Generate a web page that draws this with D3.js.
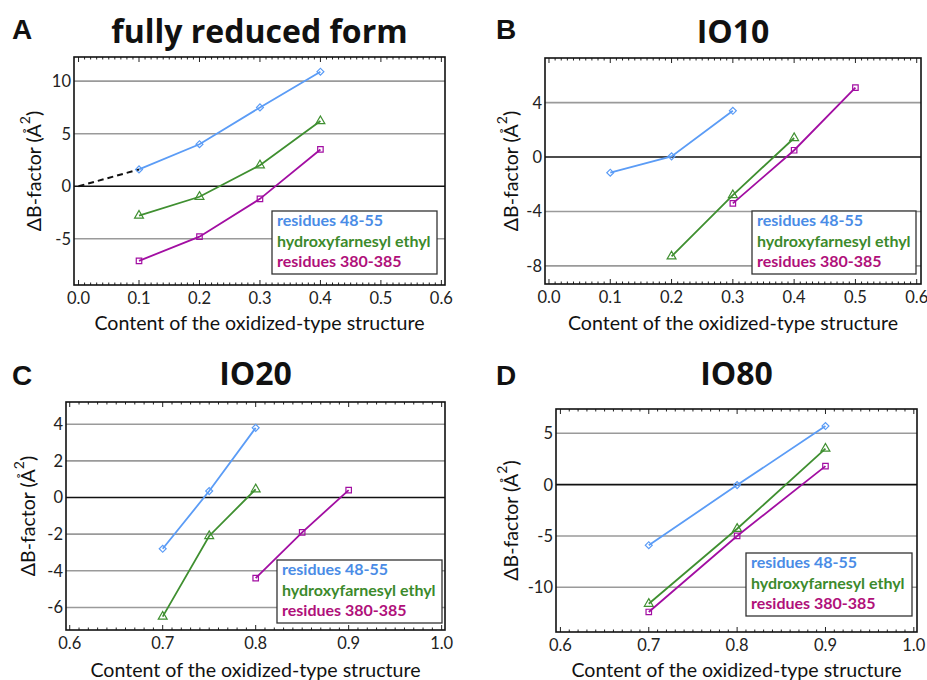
<!doctype html>
<html>
<head>
<meta charset="utf-8">
<title>Delta B-factor panels</title>
<script src="https://cdnjs.cloudflare.com/ajax/libs/d3/7.8.5/d3.min.js"></script>
<style>
  body { margin: 0; background: #fff; }
  svg { display: block; }
</style>
</head>
<body>
<svg width="927" height="680"></svg>
<script>
// ---- data ----
var seriesNames = ["residues 48-55", "hydroxyfarnesyl ethyl", "residues 380-385"];

// A: fully reduced form
var xA = [0.1, 0.2, 0.3, 0.4];
var blueA = [1.6, 4.0, 7.5, 10.9];
var greenA = [-2.8, -1.0, 2.0, 6.2];
var purpleA = [-7.1, -4.8, -1.2, 3.5];
var extrapA = [[0, 0], [0.1, 1.6]];

// B: IO10
var xBblue = [0.1, 0.2, 0.3];
var blueB = [-1.15, 0.05, 3.4];
var xBgreen = [0.2, 0.3, 0.4];
var greenB = [-7.3, -2.8, 1.4];
var xBpurple = [0.3, 0.4, 0.5];
var purpleB = [-3.4, 0.5, 5.1];

// C: IO20
var xCblue = [0.7, 0.75, 0.8];
var blueC = [-2.8, 0.35, 3.8];
var xCgreen = [0.7, 0.75, 0.8];
var greenC = [-6.5, -2.1, 0.45];
var xCpurple = [0.8, 0.85, 0.9];
var purpleC = [-4.4, -1.9, 0.4];

// D: IO80
var xD = [0.7, 0.8, 0.9];
var blueD = [-5.9, -0.05, 5.7];
var greenD = [-11.6, -4.3, 3.5];
var purpleD = [-12.4, -5.0, 1.8];

// tick labels
var xTicksLow = [0, 0.1, 0.2, 0.3, 0.4, 0.5, 0.6];
var xTicksHigh = [0.6, 0.7, 0.8, 0.9, 1.0];
var yTicksA = [-5, 0, 5, 10];
var yTicksB = [-8, -4, 0, 4];
var yTicksC = [-6, -4, -2, 0, 2, 4];
var yTicksD = [-10, -5, 0, 5];

var titles = ["fully reduced form", "IO10", "IO20", "IO80"];
var letters = ["A", "B", "C", "D"];

// ---- styling ----
var lineColors = ["#5b9cf6", "#3f8f30", "#a20ea2"];
var textColors = ["#4a8ce6", "#3c8a2c", "#b0107a"];
var symbols = ["diamond", "triangle", "square"];

function zip(xs, ys) { return xs.map((x, i) => [x, ys[i]]); }

var panels = [
  { frame: [74, 445, 57, 285], xDom: [-0.0075, 0.606], yDom: [-9.4, 12.3],
    xTicks: xTicksLow, yTicks: yTicksA, fmt: d3.format(".1f"),
    series: [zip(xA, blueA), zip(xA, greenA), zip(xA, purpleA)],
    dashed: extrapA,
    legend: [272, 211, 165, 63], letterPos: [12, 39], titleY: 43, yLabX: 41 },
  { frame: [545, 921, 58, 284], xDom: [-0.0065, 0.607], yDom: [-9.33, 7.28],
    xTicks: xTicksLow, yTicks: yTicksB, fmt: d3.format(".1f"),
    series: [zip(xBblue, blueB), zip(xBgreen, greenB), zip(xBpurple, purpleB)],
    legend: [752, 211, 164, 63], letterPos: [496, 39], titleY: 43, yLabX: 518 },
  { frame: [66, 445, 402, 630], xDom: [0.596, 1.0036], yDom: [-7.23, 5.21],
    xTicks: xTicksHigh, yTicks: yTicksC, fmt: d3.format(".1f"),
    series: [zip(xCblue, blueC), zip(xCgreen, greenC), zip(xCpurple, purpleC)],
    legend: [277, 560, 165, 63], letterPos: [12, 385], titleY: 385, yLabX: 35 },
  { frame: [556, 917, 409, 632], xDom: [0.595, 1.0036], yDom: [-14.35, 7.36],
    xTicks: xTicksHigh, yTicks: yTicksD, fmt: d3.format(".1f"),
    series: [zip(xD, blueD), zip(xD, greenD), zip(xD, purpleD)],
    legend: [746, 553, 166, 63], letterPos: [496, 385], titleY: 385, yLabX: 518 }
];

var svg = d3.select("svg");

panels.forEach(function(p, pi) {
  var f = p.frame;
  var x = d3.scaleLinear().domain(p.xDom).range([f[0], f[1]]);
  var y = d3.scaleLinear().domain(p.yDom).range([f[3], f[2]]);
  var g = svg.append("g");

  // gridlines
  g.selectAll("line.grid").data(p.yTicks).enter().append("line")
    .attr("x1", f[0]).attr("x2", f[1])
    .attr("y1", d => y(d)).attr("y2", d => y(d))
    .attr("stroke", d => d === 0 ? "#111" : "#9a9a9a")
    .attr("stroke-width", 1.6);

  // minor / major ticks on top and bottom edges
  var minor = d3.range(Math.ceil(p.xDom[0] * 100), Math.floor(p.xDom[1] * 100) + 1).map(d => d / 100);
  [f[3], f[2]].forEach(function(edge, k) {
    var dir = k === 0 ? -1 : 1;
    g.selectAll(null).data(minor).enter().append("line")
      .attr("x1", d => x(d)).attr("x2", d => x(d))
      .attr("y1", edge)
      .attr("y2", d => edge + dir * (Math.abs(d * 10 - Math.round(d * 10)) < 1e-6 ? 5 : 2.5))
      .attr("stroke", "#222").attr("stroke-width", 1);
  });

  // frame
  g.append("rect")
    .attr("x", f[0]).attr("y", f[2])
    .attr("width", f[1] - f[0]).attr("height", f[3] - f[2])
    .attr("fill", "none").attr("stroke", "#111").attr("stroke-width", 1.6);

  // tick labels
  g.selectAll(null).data(p.xTicks).enter().append("text")
    .attr("x", d => x(d)).attr("y", f[3] + 19)
    .attr("text-anchor", "middle")
    .attr("font-family", "Lato, 'Open Sans', sans-serif").attr("font-size", 16.5)
    .attr("fill", "#222")
    .text(p.fmt);
  g.selectAll(null).data(p.yTicks).enter().append("text")
    .attr("x", f[0] - 3).attr("y", d => y(d) + 6)
    .attr("text-anchor", "end")
    .attr("font-family", "Lato, 'Open Sans', sans-serif").attr("font-size", 16.5)
    .attr("fill", "#222")
    .text(d => d);

  // axis labels
  var cx = (f[0] + f[1]) / 2, cy = (f[2] + f[3]) / 2;
  g.append("text")
    .attr("x", cx).attr("y", pi < 2 ? 330 : 677)
    .attr("text-anchor", "middle")
    .attr("font-family", "Lato, sans-serif").attr("font-size", 19.6)
    .attr("fill", "#111")
    .text("Content of the oxidized-type structure");

  var yl = g.append("text")
    .attr("transform", "translate(" + p.yLabX + "," + cy + ") rotate(-90)")
    .attr("text-anchor", "middle")
    .attr("font-family", "Lato, sans-serif").attr("font-size", 19.5)
    .attr("fill", "#111");
  yl.append("tspan").text("\u0394B-factor (\u00c5");
  yl.append("tspan").attr("dy", -11).attr("font-size", 14).text("2");
  yl.append("tspan").attr("dy", 11).text(")");

  // titles
  g.append("text")
    .attr("x", p.letterPos[0]).attr("y", p.letterPos[1])
    .attr("font-family", "'Liberation Sans', Arial, sans-serif")
    .attr("font-weight", "bold").attr("font-size", 28).attr("fill", "#111")
    .text(letters[pi]);
  g.append("text")
    .attr("x", cx).attr("y", p.titleY)
    .attr("text-anchor", "middle")
    .attr("font-family", "'Open Sans', sans-serif")
    .attr("font-weight", "bold").attr("font-size", 32).attr("fill", "#111")
    .text(titles[pi]);

  // series lines
  var line = d3.line().x(d => x(d[0])).y(d => y(d[1]));
  if (p.dashed) {
    g.append("path").attr("d", line(p.dashed))
      .attr("fill", "none").attr("stroke", "#111")
      .attr("stroke-width", 2).attr("stroke-dasharray", "6,4");
  }
  p.series.forEach(function(s, si) {
    g.append("path").attr("d", line(s))
      .attr("fill", "none").attr("stroke", lineColors[si]).attr("stroke-width", 1.8);
    var sym = symbols[si];
    var gen = sym === "triangle" ? d3.symbol().type(d3.symbolTriangle).size(34)
            : d3.symbol().type(d3.symbolSquare).size(sym === "diamond" ? 24 : 30);
    g.selectAll(null).data(s).enter().append("path")
      .attr("d", gen)
      .attr("transform", d => "translate(" + x(d[0]) + "," + y(d[1]) + ")" + (sym === "diamond" ? " rotate(45)" : ""))
      .attr("fill", "none").attr("stroke", lineColors[si]).attr("stroke-width", 1.2);
  });

  // legend
  var L = p.legend;
  g.append("rect")
    .attr("x", L[0]).attr("y", L[1]).attr("width", L[2]).attr("height", L[3])
    .attr("fill", "#fff").attr("stroke", "#333").attr("stroke-width", 1.3);
  seriesNames.forEach(function(n, si) {
    g.append("text")
      .attr("x", L[0] + 5).attr("y", L[1] + 15 + si * 20.5)
      .attr("font-family", "Lato, sans-serif").attr("font-weight", "bold")
      .attr("font-size", 16).attr("fill", textColors[si])
      .text(n);
  });
});
</script>
</body>
</html>
